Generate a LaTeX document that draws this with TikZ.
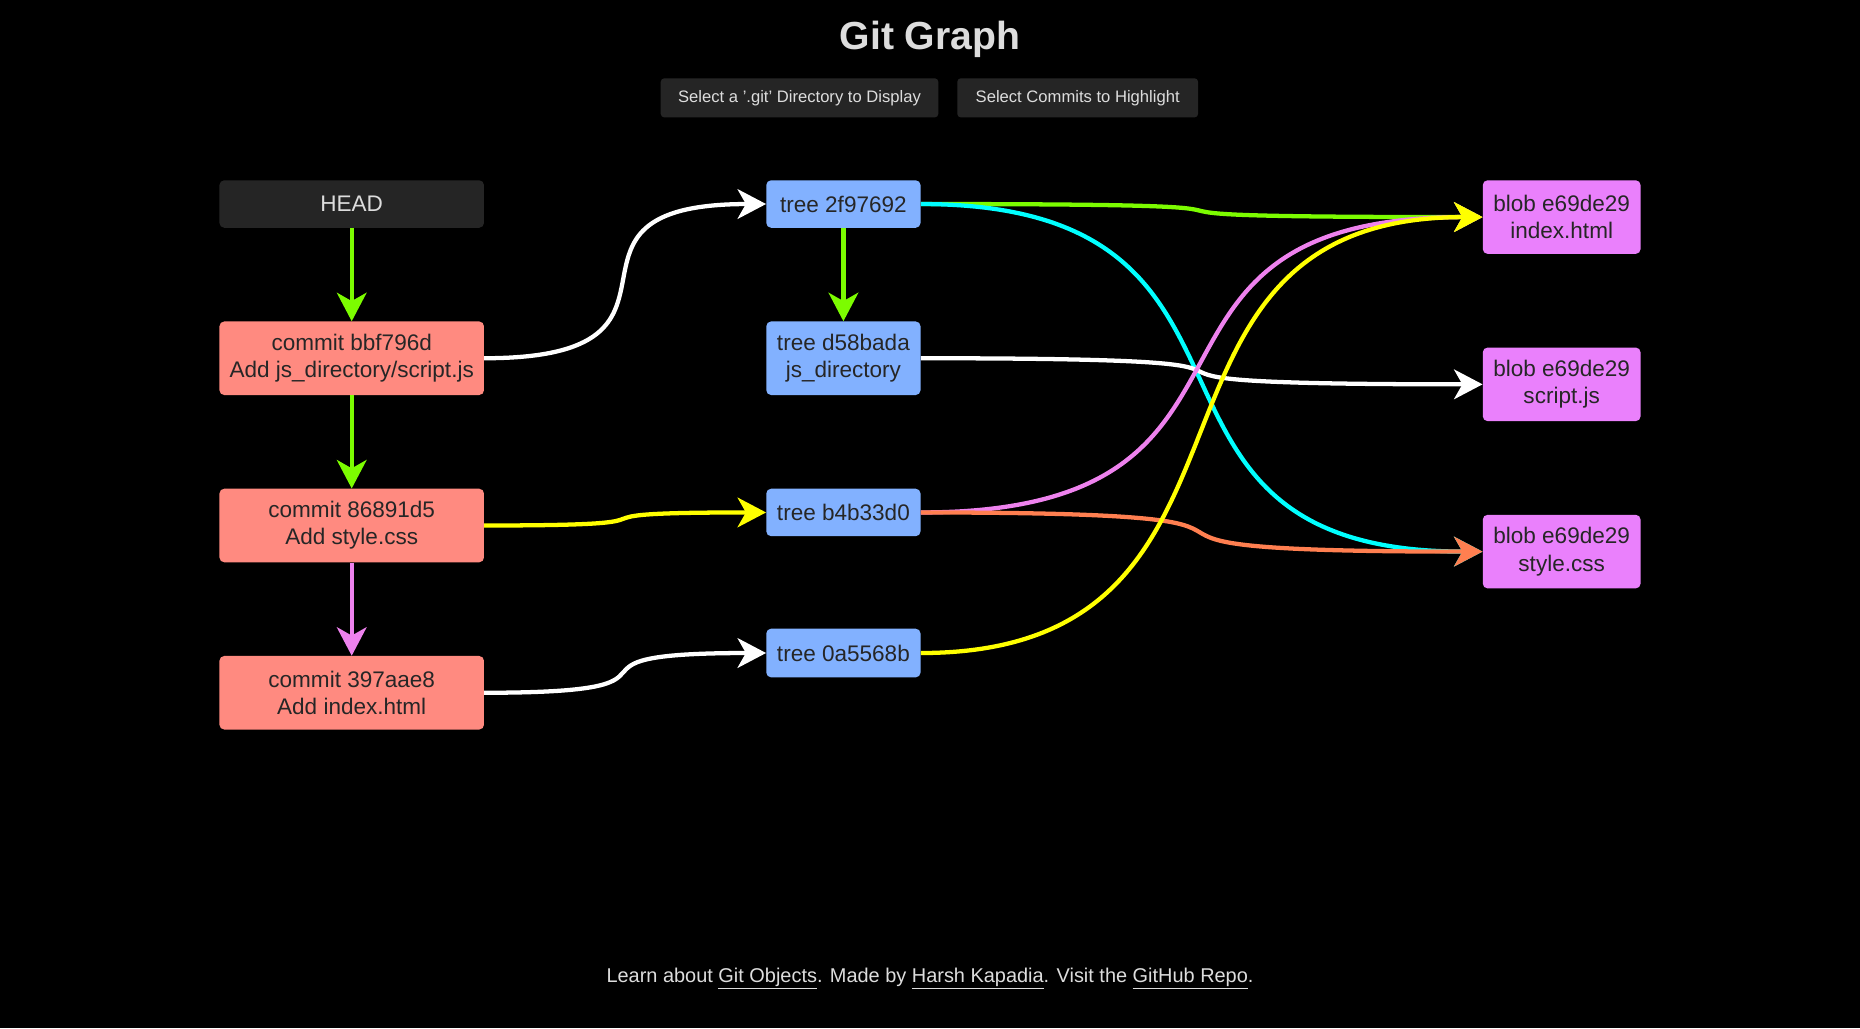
\documentclass[tikz,border=0pt]{standalone}
\usepackage{fontspec}
\setmainfont{Liberation Sans}
\usetikzlibrary{arrows.meta,backgrounds}

\definecolor{commitred}{HTML}{FF8A80}
\definecolor{treeblue}{HTML}{82B1FF}
\definecolor{blobpink}{HTML}{EA80FC}
\definecolor{headgray}{HTML}{252525}
\definecolor{lightgreen}{HTML}{7CFC00}
\definecolor{edgeviolet}{HTML}{EE82EE}
\definecolor{edgecoral}{HTML}{FF7F50}
\definecolor{edgecyan}{HTML}{00FFFF}
\definecolor{edgeyellow}{HTML}{FFFF00}
\definecolor{lighttext}{HTML}{DDDDDD}

\newcommand{\ulink}[1]{\leavevmode\setbox0\hbox{#1}\rlap{\color{lighttext}\rule[-5pt]{\wd0}{1pt}}\box0}

\begin{document}
\begin{tikzpicture}[x=1pt, y=-1pt,
    obj/.style={rounded corners=4pt, inner sep=0pt, align=center, text=black!85, font=\fontsize{19}{23}\selectfont},
    commit/.style={obj, fill=commitred, minimum width=223pt, minimum height=62pt},
    tree/.style={obj, fill=treeblue, minimum width=130pt},
    blob/.style={obj, fill=blobpink, minimum width=133pt, minimum height=62pt},
    button/.style={rounded corners=3pt, fill=headgray, text=lighttext, minimum height=33pt, inner sep=0pt, font=\fontsize{14}{16}\selectfont},
    edge/.style={line width=3.6pt, -{Stealth[length=24pt, width=25pt, inset=7pt]}},
    link/.style={edge, to path={.. controls +(#1,0) and +(-#1,0) .. (\tikztotarget) \tikztonodes}}]
  \fill[black] (0,0) rectangle (1568,867);

  % header
  \node[text=lighttext, font=\fontsize{33}{38}\selectfont\bfseries] (title) at (784,33) {Git Graph};
  \node[button, minimum width=234pt] (btndir) at (674,82.5) {Select a '.git' Directory to Display};
  \node[button, minimum width=203pt] (btncommit) at (908.5,82.5) {Select Commits to Highlight};

  % commits
  \node[obj, fill=headgray, text=lighttext, minimum width=223pt, minimum height=40pt] (head) at (296.5,172) {HEAD};
  \node[commit] (c1) at (296.5,302) {commit bbf796d\\Add js\_directory/script.js};
  \node[commit] (c2) at (296.5,443) {commit 86891d5\\Add style.css};
  \node[commit] (c3) at (296.5,584) {commit 397aae8\\Add index.html};

  % trees
  \node[tree, minimum height=40pt] (t1) at (711,172) {tree 2f97692};
  \node[tree, minimum height=62pt] (t2) at (711,302) {tree d58bada\\js\_directory};
  \node[tree, minimum height=40pt] (t3) at (711,432) {tree b4b33d0};
  \node[tree, minimum height=41pt] (t4) at (711,550.5) {tree 0a5568b};

  % blobs
  \node[blob] (b1) at (1316.5,183) {blob e69de29\\index.html};
  \node[blob] (b2) at (1316.5,324) {blob e69de29\\script.js};
  \node[blob] (b3) at (1316.5,465) {blob e69de29\\style.css};

  % parents
  \draw[edge, lightgreen] (head) -- (c1);
  \draw[edge, lightgreen] (c1) -- (c2);
  \draw[edge, edgeviolet] (c2) -- (c3);
  \draw[edge, lightgreen] (t1) -- (t2);

  % commit -> tree
  \draw[link=205, white] (c1.east) to (t1.west);
  \draw[link=200, edgeyellow] (c2.east) to (t3.west);
  \draw[link=200, white] (c3.east) to (t4.west);

  % tree -> blob
  \draw[link=420, lightgreen] (t1.east) to (b1.west);
  \draw[link=330, edgecyan] (t1.east) to (b3.west);
  \draw[link=420, white] (t2.east) to (b2.west);
  \draw[link=330, edgeviolet] (t3.east) to (b1.west);
  \draw[link=410, edgecoral] (t3.east) to (b3.west);
  \draw[link=320, edgeyellow] (t4.east) to (b1.west);

  % footer
  \node[text=lighttext, font=\fontsize{16.8}{20}\selectfont] (footer) at (784,825)
    {Learn about \ulink{Git Objects}. Made by \ulink{Harsh Kapadia}. Visit the \ulink{GitHub Repo}.};
\end{tikzpicture}
\end{document}
